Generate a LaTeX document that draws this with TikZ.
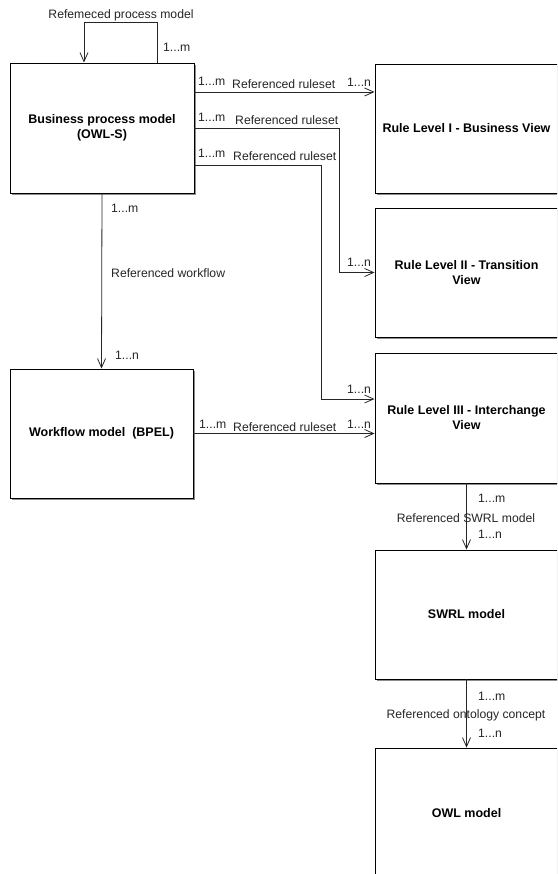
\documentclass[tikz,border=0pt]{standalone}
\usepackage{fontspec}
\setmainfont{Liberation Sans}
\usetikzlibrary{arrows.meta,shadows}
\begin{document}
\begin{tikzpicture}[x=1pt,y=-1pt,
  box/.style={draw=black, line width=0.9pt, fill=white, inner sep=2pt, align=center,
    font=\fontsize{12.5}{15}\selectfont\bfseries,
    drop shadow={shadow xshift=1.6pt, shadow yshift=-1.6pt, fill=black!45, opacity=1}},
  rbox/.style={box, minimum width=200pt, minimum height=129pt},
  btxt/.style={inner sep=0pt, align=center, font=\fontsize{12.5}{15}\selectfont\bfseries},
  conn/.style={draw=black!85, line width=0.8pt, -{Straight Barb[length=9pt,width=8pt,line width=0.8pt]}},
  lbl/.style={inner sep=0pt, font=\fontsize{12.2}{14}\selectfont, text=black!85}]
\useasboundingbox (0,0) rectangle (557,874);
\clip (0,0) rectangle (557,874);
\fill[white] (0,0) rectangle (557,874);

% boxes
\node[box, minimum width=184pt, minimum height=130pt] (bpm) at (102,128) {Business process model\\(OWL-S)};
\node[box, minimum width=183pt, minimum height=129pt] (wf) at (101.5,433.5) {Workflow model~~(BPEL)};
\node[rbox] (r1) at (475,128.5) {};
\node[rbox] (r2) at (475,272.5) {};
\node[rbox, minimum height=130pt] (r3) at (475,418) {};
\node[rbox] (swrl) at (475,614.5) {};
\node[rbox, minimum height=130pt] (owl) at (475,813) {};
\node[btxt] (r1t) at (466.5,128.5) {Rule Level I - Business View};
\node[btxt] (r2t) at (466.5,272.5) {Rule Level II - Transition\\View};
\node[btxt] (r3t) at (466.5,418) {Rule Level III - Interchange\\View};
\node[btxt] (swrlt) at (466.5,614.5) {SWRL model};
\node[btxt] (owlt) at (466.5,813) {OWL model};

% helper coordinates
\coordinate (lp) at (84,22);
\coordinate (c2) at (339,0);
\coordinate (c3) at (321,0);
\coordinate (r3in) at ([yshift=19pt]r3.west);

% self loop
\draw[conn] ([xshift=55pt]bpm.north) |- (lp) -- ([xshift=-18pt]bpm.north);
\node[lbl, anchor=base] (tloop) at (121,18.5) {Refemeced process model};
\node[lbl, anchor=base west] (mloop) at (163,52) {1...m};

% BPM -> Rule I
\draw[conn] ([yshift=36pt]bpm.east) -- ([yshift=36pt]bpm.east -| r1.west);
\node[lbl, anchor=base west] (m1) at (198,86) {1...m};
\node[lbl, anchor=base west] (t1) at (232,89) {Referenced ruleset};
\node[lbl, anchor=base west] (n1) at (347,87) {1...n};

% BPM -> Rule II
\draw[conn] (bpm.east) -| (c2 |- r2.west) -- (r2.west);
\node[lbl, anchor=base west] (m2) at (198,122) {1...m};
\node[lbl, anchor=base west] (t2) at (235,125) {Referenced ruleset};
\node[lbl, anchor=base west] (n2) at (347,266) {1...n};

% BPM -> Rule III
\draw[conn] ([yshift=-37pt]bpm.east) -| (c3 |- r3in) -- (r3in);
\node[lbl, anchor=base west] (m3) at (198,158) {1...m};
\node[lbl, anchor=base west] (t3) at (233,161) {Referenced ruleset};
\node[lbl, anchor=base west] (n3) at (347,393) {1...n};

% BPM -> Workflow
\draw[conn] (bpm.south) -- (wf.north);
\node[lbl, anchor=base west] (m4) at (111,213) {1...m};
\node[lbl, anchor=base west] (t4) at (111,277) {Referenced workflow};
\node[lbl, anchor=base west] (n4) at (115,359) {1...n};

% Workflow -> Rule III
\draw[conn] (wf.east) -- (wf.east -| r3.west);
\node[lbl, anchor=base west] (m5) at (199,428) {1...m};
\node[lbl, anchor=base west] (t5) at (233,431) {Referenced ruleset};
\node[lbl, anchor=base west] (n5) at (347,428) {1...n};

% Rule III -> SWRL
\draw[conn] (r3.south -| r3t) -- (swrl.north -| swrlt);
\node[lbl, anchor=base west] (m6) at (478,502) {1...m};
\node[lbl, anchor=base] (t6) at (466,522) {Referenced SWRL model};
\node[lbl, anchor=base west] (n6) at (478,538) {1...n};

% SWRL -> OWL
\draw[conn] (swrl.south -| swrlt) -- (owl.north -| owlt);
\node[lbl, anchor=base west] (m7) at (478,700) {1...m};
\node[lbl, anchor=base] (t7) at (466,718) {Referenced ontology concept};
\node[lbl, anchor=base west] (n7) at (478,737) {1...n};
\end{tikzpicture}
\end{document}
